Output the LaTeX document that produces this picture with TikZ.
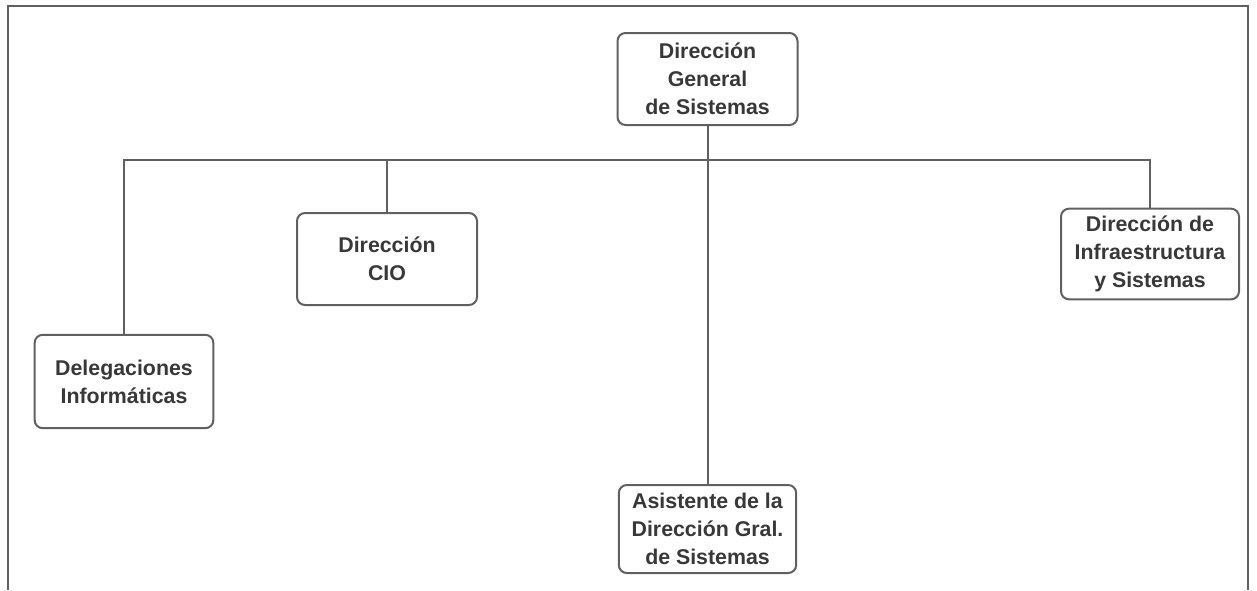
\documentclass[tikz,border=0pt]{standalone}
\usepackage{fontspec}
\setmainfont{Liberation Sans}
\usetikzlibrary{positioning}

\definecolor{linegray}{HTML}{606060}
\definecolor{textgray}{HTML}{383838}

\tikzset{
    unit/.style={draw=linegray, line width=1.5pt, rounded corners=6pt, fill=white,
        align=center, inner sep=2pt, text=textgray,
        font=\fontsize{16}{21}\selectfont\bfseries},
    link/.style={draw=linegray, line width=1.5pt}
}

\begin{document}
\begin{tikzpicture}[x=0.75pt, y=-0.75pt]
    \useasboundingbox (0,0) rectangle (1257,590);

    % Open frame round the chart
    \draw[link] (8,590) -- (8,6) -- (1248,6) -- (1248,590);

    % Units
    \node[unit, minimum width=135pt, minimum height=69pt] (gen) at (707.5,79)
        {Dirección\\ General\\ de Sistemas};
    \node[unit, minimum width=135pt, minimum height=69pt] (cio) at (387,259)
        {Dirección\\ CIO};
    \node[unit, minimum width=134pt, minimum height=70pt] (del) at (124,381.5)
        {Delegaciones\\ Informáticas};
    \node[unit, minimum width=133.5pt, minimum height=68pt] (inf) at (1150,254)
        {Dirección de\\ Infraestructura\\ y Sistemas};
    \node[unit, minimum width=133pt, minimum height=66pt] (asi) at (707.5,529)
        {Asistente de la\\ Dirección Gral.\\ de Sistemas};

    % Bus line
    \coordinate (bus) at (0,160);
    \draw[link] (del.north) |- (bus -| inf.north) -- (inf.north);
    \draw[link] (cio.north) -- (cio.north |- bus);
    \draw[link] (gen.south) -- (asi.north);

\end{tikzpicture}
\end{document}
